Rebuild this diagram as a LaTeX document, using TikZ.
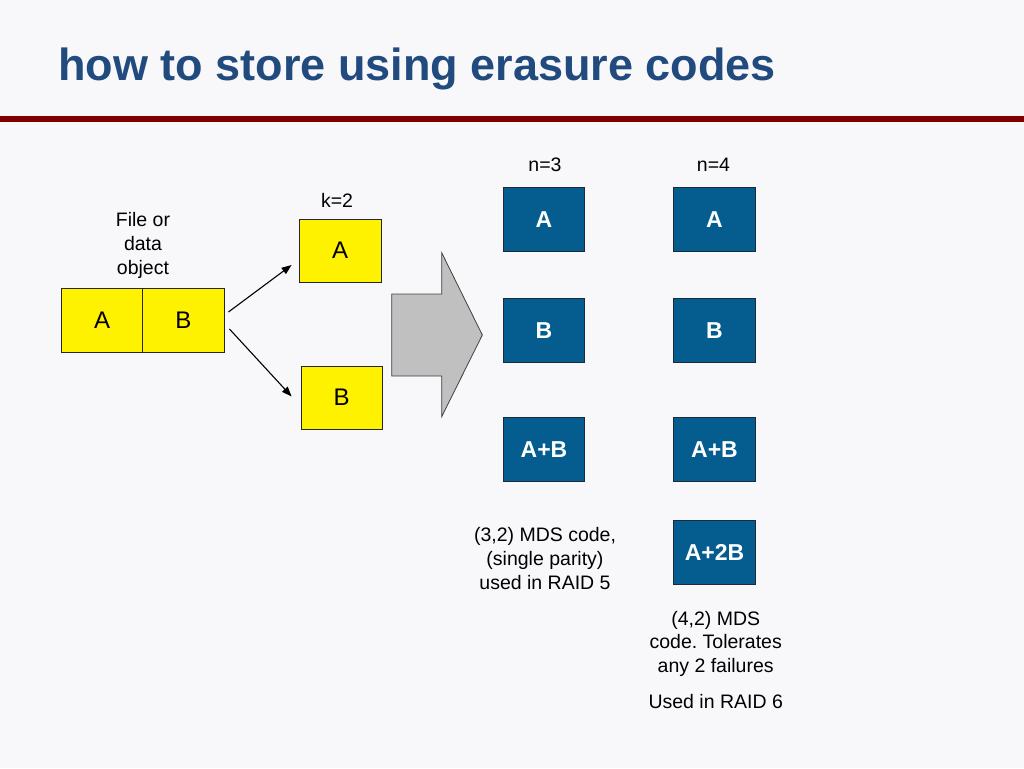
\documentclass[tikz,border=0pt]{standalone}
\usepackage{fontspec}
\setmainfont{Liberation Sans}
\usetikzlibrary{arrows.meta}
\definecolor{bg}{HTML}{F8F8FA}
\definecolor{titleblue}{HTML}{214A7E}
\definecolor{rulered}{HTML}{800000}
\definecolor{boxblue}{HTML}{055D8F}
\definecolor{boxedge}{HTML}{1B2B3B}
\definecolor{arrowgray}{HTML}{C0C0C0}
\definecolor{arrowedge}{HTML}{404040}
\frenchspacing
\begin{document}
\begin{tikzpicture}[x=1pt,y=-1pt,
  ybox/.style={draw=black!85, line width=0.8pt, fill=yellow, inner sep=0pt,
    font=\fontsize{24}{28}\selectfont},
  bbox/.style={draw=boxedge, line width=0.8pt, fill=boxblue, text=white, inner sep=0pt,
    minimum width=81.5pt, minimum height=63.5pt, font=\fontsize{23}{27}\selectfont\bfseries},
  lbl/.style={font=\fontsize{19.5}{24}\selectfont, align=center, inner sep=0pt},
  conn/.style={line width=1.1pt, -{Triangle[length=10pt,width=7.5pt]}},
  blockarrow/.style={fill=arrowgray, draw=arrowedge, line width=0.8pt, line join=miter}
]
\fill[bg] (0,0) rectangle (1024,768);
\useasboundingbox (0,0) rectangle (1024,768);

% title and rule
\node[anchor=base west, inner sep=0pt, text=titleblue,
  font=\fontsize{45}{54}\selectfont\bfseries] (title) at (58,80.7) {how to store using erasure codes};
\fill[rulered] (0,116) rectangle (1024,122);

% file object
\node[lbl] (filelbl) at (143,245) {File or\\data\\object};
\node[ybox, minimum width=81pt, minimum height=64pt] (fA) at (102.2,320) {A};
\node[ybox, minimum width=81.3pt, minimum height=64pt] (fB) at (183.4,320) {B};

% k = 2
\node[lbl] (klbl) at (337,200) {k=2};
\node[ybox, minimum width=82pt, minimum height=63pt] (kA) at (340,250.5) {A};
\node[ybox, minimum width=81pt, minimum height=63pt] (kB) at (341.5,397.5) {B};

\draw[conn] ([xshift=4pt,yshift=8pt]fB.east) -- ([xshift=-7pt,yshift=-14.5pt]kA.west);
\draw[conn] ([xshift=5pt,yshift=-9pt]fB.east) -- ([xshift=-9pt,yshift=1pt]kB.west);

% block arrow
\draw[blockarrow] (391.7,294) -- (441.7,294) -- (441.7,252.7) -- (482.3,335)
  -- (441.7,416.7) -- (441.7,376) -- (391.7,376) -- cycle;

% n = 3
\node[lbl] (n3lbl) at (545,165) {n=3};
\node[bbox] (c1A) at (544,219.2) {A};
\node[bbox] (c1B) at (544,330.2) {B};
\node[bbox] (c1AB) at (544,449.5) {A+B};
\node[lbl] (c1txt) at (545,559) {(3,2) MDS code,\\(single parity)\\used in RAID 5};

% n = 4
\node[lbl] (n4lbl) at (713.5,165) {n=4};
\node[bbox] (c2A) at (714.5,219.2) {A};
\node[bbox] (c2B) at (714.5,330.2) {B};
\node[bbox] (c2AB) at (714.5,449.5) {A+B};
\node[bbox] (c2A2B) at (714.5,552.2) {A+2B};
\node[lbl, font=\fontsize{19.5}{23.5}\selectfont] (c2txt) at (715.7,643.5) {(4,2) MDS\\code. Tolerates\\any 2 failures};
\node[lbl] (c2raid) at (715.7,701.7) {Used in RAID 6};
\end{tikzpicture}
\end{document}
